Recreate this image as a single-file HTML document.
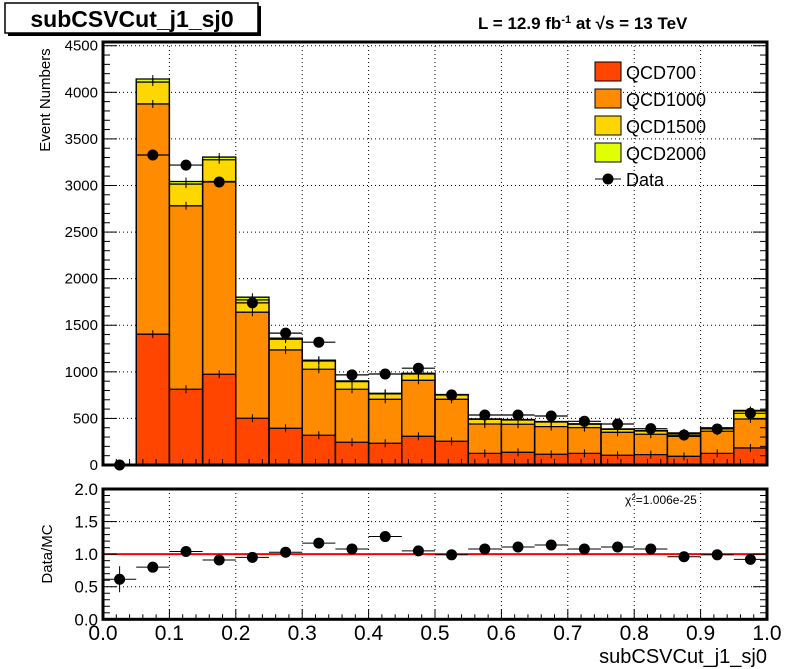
<!DOCTYPE html>
<html><head><meta charset="utf-8"><style>
body{margin:0;background:#fff;}
svg{display:block;font-family:"Liberation Sans",Arial,sans-serif;}
</style></head><body>
<svg id="c" width="798" height="669" viewBox="0 0 798 669"></svg>
<script>
const binEdges0 = 0, binWidth = 0.05;
const qcd700  = [0,1404,813,974,502,394,319,244,233,308,254,125,136,115,125,104,111,93,125,183];
const qcd1000 = [0,2471,1969,2069,1138,841,709,569,472,601,451,315,301,297,276,247,219,215,237,311];
const qcd1500 = [0,235,233,233,132,115,89,82,58,68,47,50,46,50,36,32,35,32,32,86];
const qcd2000 = [0,33,28,29,29,11,8,7,7,8,5,5,5,5,5,5,5,5,5,6];
const dataVals = [0,3327,3219,3037,1740,1415,1318,967,977,1039,752,537,537,526,469,440,390,322,387,555];
const ratioVals = [0.615,0.80,1.04,0.91,0.95,1.03,1.17,1.08,1.27,1.05,0.99,1.08,1.11,1.14,1.08,1.11,1.08,0.96,0.99,0.92];
const yTicks = [0,500,1000,1500,2000,2500,3000,3500,4000,4500];
const rTicks = ["0.0","0.5","1.0","1.5","2.0"];
const xTicks = ["0.0","0.1","0.2","0.3","0.4","0.5","0.6","0.7","0.8","0.9","1.0"];

const NS="http://www.w3.org/2000/svg", svg=document.getElementById('c');
function el(t,a,p){const e=document.createElementNS(NS,t);for(const k in a)e.setAttribute(k,a[k]);(p||svg).appendChild(e);return e;}
const X0=103,X1=767,Y0=465,YT=42,YMAX=4540,RY0=619.3,RYT=489;
const sx=v=>X0+(X1-X0)*v;
const sy=v=>Y0-(Y0-YT)*v/YMAX;
const ry=v=>RY0-(RY0-RYT)*v/2;

// grid top
const gt=el('g',{});

for(let i=1;i<10;i++)el('line',{x1:sx(i/10),x2:sx(i/10),y1:YT,y2:Y0,stroke:'#000','stroke-dasharray':'1,3','stroke-width':1},gt);
for(const t of yTicks.slice(1))el('line',{x1:X0,x2:X1,y1:sy(t),y2:sy(t),stroke:'#000','stroke-dasharray':'1,3','stroke-width':1},gt);

// stacks
const series=[[qcd700,'#ff4500','qcd700'],[qcd1000,'#ff8c00','qcd1000'],[qcd1500,'#ffd700','qcd1500'],[qcd2000,'#e0ff00','qcd2000']];
const cum=qcd700.map(()=>0);
const tops=[];
series.forEach(([arr,col,nm])=>{
  arr.forEach((v,i)=>{cum[i]+=v;});
  tops.push({hi:cum.slice(),col,nm});
});
// draw from biggest total down so lower series overlay
for(let s=tops.length-1;s>=0;s--){
  const {hi,col,nm}=tops[s];
  const g=el('g',{});
  
  
  hi.forEach((v,i)=>{
    if(v<=0)return;
    const b=el('rect',{x:sx(i*binWidth),y:sy(v),width:sx(binWidth)-X0,height:Y0-sy(v),fill:col},g);
    
    
  });
}
// outlines
for(let s=0;s<tops.length;s++){
  const {hi}=tops[s];let d='';
  hi.forEach((v,i)=>{if(v<=0)return;const xa=sx(i*binWidth),xb=sx((i+1)*binWidth);d+=`M${xa},${Y0}L${xa},${sy(v)}L${xb},${sy(v)}L${xb},${Y0}`;
    el('line',{x1:(xa+xb)/2,x2:(xa+xb)/2,y1:sy(v)-4,y2:sy(v)+4,stroke:'#000','stroke-width':1});});
  el('path',{d,fill:'none',stroke:'#000','stroke-width':1.3});
}
// data
const gd=el('g',{});

dataVals.forEach((v,i)=>{
  const xa=sx(i*binWidth),xb=sx((i+1)*binWidth),xc=(xa+xb)/2,y=sy(v),e=Math.sqrt(v)*(Y0-YT)/YMAX;
  el('line',{x1:xa,x2:xb,y1:y,y2:y,stroke:'#000','stroke-width':1.2},gd);
  el('line',{x1:xc,x2:xc,y1:y-e,y2:y+e,stroke:'#000','stroke-width':1.2},gd);
  const c=el('circle',{cx:xc,cy:y,r:5.5,fill:'#000'},gd);
  
  
});
// top frame & ticks
el('rect',{x:X0,y:YT,width:X1-X0,height:Y0-YT,fill:'none',stroke:'#000','stroke-width':3});
for(let v=0;v<=4500;v+=100){const L=v%500===0?14:7;el('line',{x1:X0,x2:X0+L,y1:sy(v),y2:sy(v),stroke:'#000'});el('line',{x1:X1-L,x2:X1,y1:sy(v),y2:sy(v),stroke:'#000'});}
for(let i=0;i<=50;i++){const L=i%5===0?12:6;el('line',{x1:sx(i/50),x2:sx(i/50),y1:Y0-L,y2:Y0,stroke:'#000'});}
yTicks.forEach(t=>{const tx=el('text',{x:X0-5,y:sy(t)+5,'text-anchor':'end','font-size':15});tx.textContent=t;
  });
let yt=el('text',{x:50,y:100,'font-size':15,transform:'rotate(-90 50 100)','text-anchor':'middle'});yt.textContent='Event Numbers';


// ratio
const gr=el('g',{});

for(let i=1;i<10;i++)el('line',{x1:sx(i/10),x2:sx(i/10),y1:RYT,y2:RY0,stroke:'#000','stroke-dasharray':'1,3'},gr);
[0.5,1.5].forEach(v=>el('line',{x1:X0,x2:X1,y1:ry(v),y2:ry(v),stroke:'#000','stroke-dasharray':'1,3'},gr));
let rl=el('line',{x1:X0,x2:X1,y1:ry(1),y2:ry(1),stroke:'#f00','stroke-width':2});

ratioVals.forEach((v,i)=>{
  const xa=sx(i*binWidth),xb=sx((i+1)*binWidth),xc=(xa+xb)/2,y=ry(v);
  el('line',{x1:xa,x2:xb,y1:y,y2:y,stroke:'#000'});
  const e=i===0?13:3;el('line',{x1:xc,x2:xc,y1:y-e,y2:y+e,stroke:'#000'});
  const c=el('circle',{cx:xc,cy:y,r:5.5,fill:'#000'});
  
  
});
el('rect',{x:X0,y:RYT,width:X1-X0,height:RY0-RYT,fill:'none',stroke:'#000','stroke-width':3});
for(let i=0;i<=20;i++){const v=i*0.1,L=i%5===0?14:7;el('line',{x1:X0,x2:X0+L,y1:ry(v),y2:ry(v),stroke:'#000'});el('line',{x1:X1-L,x2:X1,y1:ry(v),y2:ry(v),stroke:'#000'});}
for(let i=0;i<=50;i++){const L=i%5===0?10:5;el('line',{x1:sx(i/50),x2:sx(i/50),y1:RY0-L,y2:RY0,stroke:'#000'});}
rTicks.forEach(t=>{const tx=el('text',{x:X0-5,y:ry(+t)+6,'text-anchor':'end','font-size':17});tx.textContent=t;
  });
xTicks.forEach(t=>{const tx=el('text',{x:sx(+t),y:640,'text-anchor':'middle','font-size':21});tx.textContent=t;
  });
let ry_=el('text',{x:52,y:554,'font-size':15,transform:'rotate(-90 52 554)','text-anchor':'middle'});ry_.textContent='Data/MC';

let xt=el('text',{x:767,y:663,'text-anchor':'end','font-size':20});xt.textContent='subCSVCut_j1_sj0';

let chi=el('text',{x:625,y:504,'font-size':12});chi.innerHTML='χ<tspan dy="-4" font-size="8">2</tspan><tspan dy="4">=1.006e-25</tspan>';


// title
el('rect',{x:8,y:6,width:253,height:30,fill:'#000'});
let tb=el('rect',{x:5,y:3,width:253,height:30,fill:'#fff',stroke:'#000','stroke-width':1.5});

let tt=el('text',{x:132,y:27,'text-anchor':'middle','font-size':23,'font-weight':'bold'});tt.textContent='subCSVCut_j1_sj0';

let lu=el('text',{x:478,y:29,'font-size':17,'font-weight':'bold'});
lu.innerHTML='L = 12.9 fb<tspan dy="-6" font-size="11">-1</tspan><tspan dy="6"> at  √s = 13 TeV</tspan>';


// legend
const legNames=['QCD700','QCD1000','QCD1500','QCD2000'],legCols=['#ff4500','#ff8c00','#ffd700','#e0ff00'];
legNames.forEach((n,i)=>{
  const y=62+i*27;
  const g=el('g',{});
  
  el('rect',{x:595,y:y,width:26,height:19,fill:legCols[i],stroke:'#000'},g);
  const t=el('text',{x:626,y:y+17,'font-size':18},g);t.textContent=n;
});
const gl=el('g',{});

el('line',{x1:595,x2:621,y1:179,y2:179,stroke:'#000'},gl);
el('circle',{cx:608,cy:179,r:5.5,fill:'#000'},gl);
const dt=el('text',{x:626,y:186,'font-size':18},gl);dt.textContent='Data';
</script>
</body></html>
